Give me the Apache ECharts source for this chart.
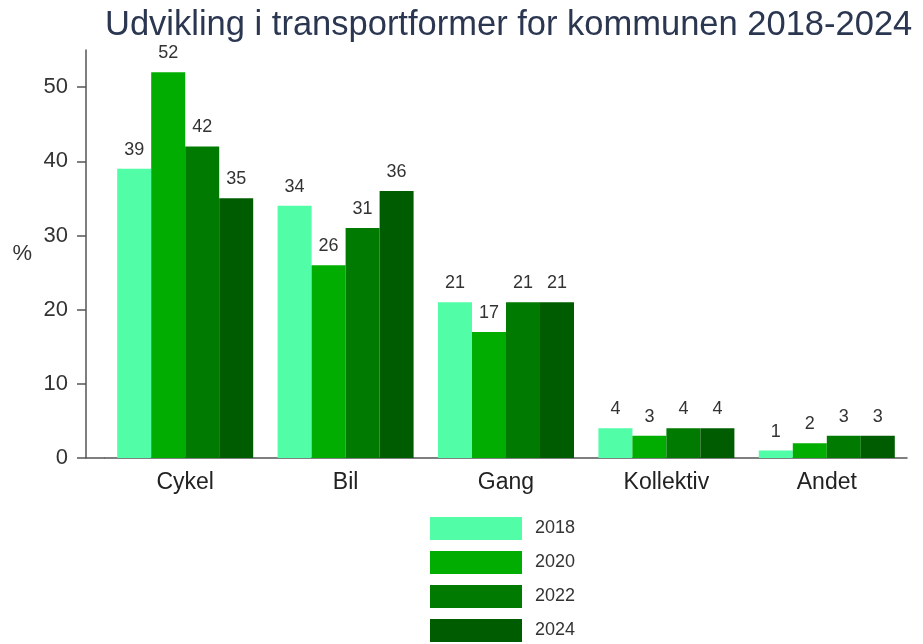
<!DOCTYPE html>
<html>
<head>
<meta charset="utf-8">
<script src="https://cdn.jsdelivr.net/npm/echarts@6/dist/echarts.min.js"></script>
<style>
  html, body { margin: 0; padding: 0; background: #fff; }
  #main { width: 923px; height: 644px; }
</style>
</head>
<body>
<div id="main"></div>
<script>
// kategorier og værdier (%)
var categories = ['Cykel', 'Bil', 'Gang', 'Kollektiv', 'Andet'];
var years = ['2018', '2020', '2022', '2024'];
var v2018 = [39, 34, 21, 4, 1];
var v2020 = [52, 26, 17, 3, 2];
var v2022 = [42, 31, 21, 4, 3];
var v2024 = [35, 36, 21, 4, 3];
var yTicks = [0, 10, 20, 30, 40, 50];
var colors = ['#52fda8', '#00ad00', '#007a00', '#005c00'];

var chart = echarts.init(document.getElementById('main'));

function barSeries(name, data, color) {
  return {
    name: name,
    type: 'bar',
    data: data,
    barWidth: 34,
    barGap: '0%',
    itemStyle: { color: color },
    label: {
      show: true,
      position: 'top',
      distance: 10,
      color: '#333',
      fontSize: 18,
      fontFamily: 'Liberation Sans, Arial, sans-serif'
    }
  };
}

var option = {
  animation: false,
  textStyle: { fontFamily: 'Liberation Sans, Arial, sans-serif' },
  title: {
    text: 'Udvikling i transportformer for kommunen 2018-2024',
    left: 100,
    top: 3,
    textStyle: { fontSize: 34.5, fontWeight: 'normal', color: '#2b3650' }
  },
  legend: {
    orient: 'vertical',
    left: 430,
    top: 517,
    padding: 0,
    icon: 'rect',
    itemWidth: 92,
    itemHeight: 23,
    itemGap: 11,
    textStyle: { fontSize: 18, color: '#333', padding: [0, 0, 0, 8] },
    data: years
  },
  grid: { left: 105, right: 16, top: 50, bottom: 186 },
  xAxis: {
    type: 'category',
    data: categories,
    axisLine: { lineStyle: { color: '#555', width: 1.5 } },
    axisTick: { show: false },
    axisLabel: { fontSize: 23, color: '#222', margin: 13 }
  },
  yAxis: {
    type: 'value',
    min: 0,
    max: 55,
    interval: 10,
    offset: 19,
    name: '%',
    nameLocation: 'middle',
    nameRotate: 0,
    nameGap: 54,
    nameTextStyle: { fontSize: 22, color: '#333' },
    axisLine: { show: true, lineStyle: { color: '#555', width: 1.5 } },
    axisTick: { show: true, length: 9, customValues: yTicks, lineStyle: { color: '#555', width: 1.5 } },
    axisLabel: { fontSize: 22, color: '#333', margin: 18, customValues: yTicks },
    splitLine: { show: false }
  },
  graphic: [{
    type: 'line',
    shape: { x1: 86, y1: 458, x2: 105, y2: 458 },
    style: { stroke: '#555', lineWidth: 1.5 }
  }],
  series: [
    barSeries(years[0], v2018, colors[0]),
    barSeries(years[1], v2020, colors[1]),
    barSeries(years[2], v2022, colors[2]),
    barSeries(years[3], v2024, colors[3])
  ]
};

chart.setOption(option);
</script>
</body>
</html>
